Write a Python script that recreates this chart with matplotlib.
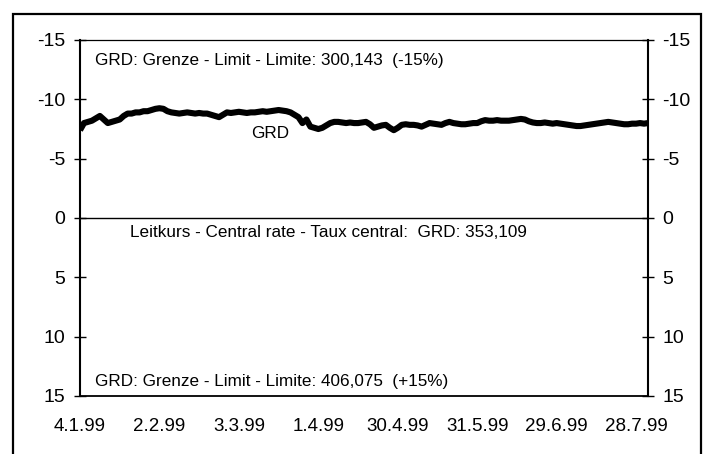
import matplotlib.pyplot as plt
from matplotlib.patches import Rectangle

plt.rcParams['font.family'] = ['Liberation Sans', 'DejaVu Sans']

# deviation from central rate in %, trading days 4.1.99 .. early Aug 99
grd = [-7.4, -8.0, -8.1, -8.2, -8.4, -8.6, -8.3, -8.0, -8.1, -8.2,
       -8.3, -8.6, -8.8, -8.8, -8.9, -8.9, -9.0, -9.0, -9.1, -9.2,
       -9.25, -9.2, -9.0, -8.9, -8.85, -8.8, -8.85, -8.9, -8.85, -8.8,
       -8.85, -8.8, -8.8, -8.7, -8.6, -8.5, -8.7, -8.9, -8.85, -8.9,
       -8.95, -8.9, -8.85, -8.9, -8.9, -8.95, -9.0, -8.95, -9.0, -9.05,
       -9.1, -9.05, -9.0, -8.9, -8.7, -8.5, -8.0, -8.3, -7.7, -7.6,
       -7.5, -7.6, -7.8, -8.0, -8.1, -8.1, -8.05, -8.0, -8.05, -8.0,
       -8.0, -8.05, -8.1, -7.9, -7.6, -7.7, -7.8, -7.85, -7.6, -7.4,
       -7.6, -7.85, -7.9, -7.85, -7.85, -7.8, -7.7, -7.85, -8.0, -7.95,
       -7.9, -7.85, -8.0, -8.1, -8.0, -7.95, -7.9, -7.9, -7.95, -8.0,
       -8.0, -8.15, -8.25, -8.2, -8.2, -8.25, -8.2, -8.2, -8.2, -8.25,
       -8.3, -8.35, -8.3, -8.15, -8.05, -8.0, -8.0, -8.05, -8.0, -7.95,
       -8.0, -7.95, -7.9, -7.85, -7.8, -7.75, -7.75, -7.8, -7.85, -7.9,
       -7.95, -8.0, -8.05, -8.1, -8.05, -8.0, -7.95, -7.9, -7.9, -7.95,
       -7.95, -8.0, -7.95, -8.0]

date_labels = ['4.1.99', '2.2.99', '3.3.99', '1.4.99', '30.4.99',
               '31.5.99', '29.6.99', '28.7.99']
label_pos = [0, 20, 40, 60, 80, 100, 120, 140]
yticks = [-15, -10, -5, 0, 5, 10, 15]

fig = plt.figure(figsize=(7.07, 4.54), dpi=100)
# outer frame around the whole graphic
fig.patches.append(Rectangle((13 / 707, -0.1), 688 / 707, 1.1 - 14 / 454,
                             transform=fig.transFigure, fill=False,
                             edgecolor='black', linewidth=1.6))

ax = fig.add_axes([80 / 707, 1 - 396 / 454, 568 / 707, 356 / 454])
ax.plot(range(len(grd)), grd, color='black', linewidth=4.4,
        solid_capstyle='butt')
ax.axhline(0, color='black', linewidth=1.0)

ax.set_xlim(0, len(grd) - 1)
ax.set_ylim(15, -15)
ax.set_yticks(yticks)
ax.set_yticklabels([str(v) for v in yticks])
ax.set_xticks(label_pos)
ax.set_xticklabels(date_labels)

ax.tick_params(axis='y', which='both', direction='inout', length=9,
               width=1, labelsize=14, left=True, right=True,
               labelleft=True, labelright=True, pad=6)
ax.tick_params(axis='x', length=0, labelsize=13.5, pad=16)

for side in ['left', 'right']:
    ax.spines[side].set_linewidth(1.5)
ax.spines['top'].set_linewidth(0.9)
ax.spines['bottom'].set_linewidth(1.3)

ax.text(3.7, -13.3, 'GRD: Grenze - Limit - Limite: 300,143  (-15%)',
        fontsize=12.3, va='center', ha='left')
ax.text(47.9, -7.1, 'GRD', fontsize=12.3, va='center', ha='center')
ax.text(12.5, 1.2, 'Leitkurs - Central rate - Taux central:  GRD: 353,109',
        fontsize=12.3, va='center', ha='left')
ax.text(3.7, 13.8, 'GRD: Grenze - Limit - Limite: 406,075  (+15%)',
        fontsize=12.3, va='center', ha='left')

fig.savefig('out.png', dpi=100)
